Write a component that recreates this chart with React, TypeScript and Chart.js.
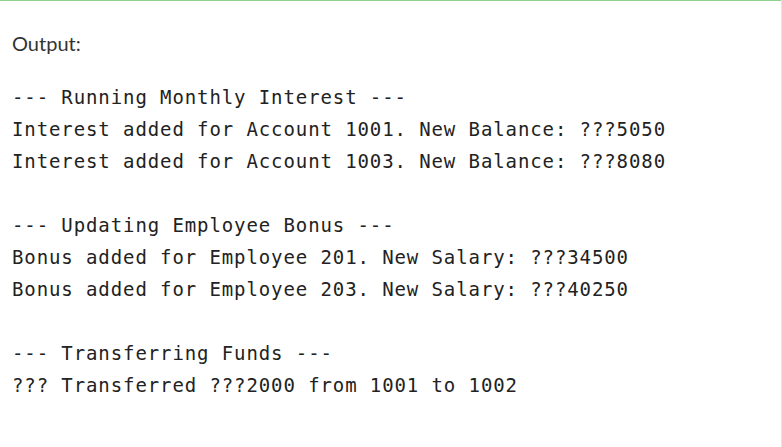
import React, { useEffect, useRef } from 'react';
import Chart from 'chart.js/auto';

const heading = 'Output:';
const outputLines = [
  '--- Running Monthly Interest ---',
  'Interest added for Account 1001. New Balance: ???5050',
  'Interest added for Account 1003. New Balance: ???8080',
  '',
  '--- Updating Employee Bonus ---',
  'Bonus added for Employee 201. New Salary: ???34500',
  'Bonus added for Employee 203. New Salary: ???40250',
  '',
  '--- Transferring Funds ---',
  '??? Transferred ???2000 from 1001 to 1002',
];
// top accent rule, drawn as a flat line across the panel
const ruleX = [0, 1];
const ruleY = [1, 1];

const App = () => {
  const chartRef = useRef<HTMLCanvasElement>(null);

  useEffect(() => {
    if (!chartRef.current) return;
    const chart = new Chart(chartRef.current, {
      type: 'line',
      data: {
        datasets: [
          {
            data: ruleX.map((x, i) => ({ x, y: ruleY[i] })),
            borderColor: '#8fd08f',
            borderWidth: 2,
            pointRadius: 0,
          },
        ],
      },
      options: {
        animation: false,
        responsive: false,
        layout: { padding: 0 },
        scales: {
          x: { type: 'linear', min: 0, max: 1, display: false },
          y: { min: 0, max: 1, display: false },
        },
        plugins: { legend: { display: false }, tooltip: { enabled: false } },
      },
    });
    return () => chart.destroy();
  }, []);

  return (
    <div style={{ position: 'fixed', left: 0, top: 0, width: 782, height: 447, background: '#fff' }}>
      <canvas ref={chartRef} width={782} height={2} style={{ position: 'absolute', left: 0, top: 0, width: 782, height: 2 }} />
      <div style={{ position: 'absolute', right: 0, top: 0, width: 1, height: 447, background: '#e4e4e4' }} />
      <div
        style={{
          position: 'absolute',
          left: 12,
          top: 31,
          fontFamily: 'Lato, "Open Sans", sans-serif',
          fontSize: 20,
          color: '#333',
        }}
      >
        {heading}
      </div>
      <div style={{ position: 'absolute', left: 12, top: 81 }}>
        {outputLines.map((line, i) => (
          <div
            key={i}
            style={{
              height: 32,
              lineHeight: '32px',
              fontFamily: '"DejaVu Sans Mono", "Liberation Mono", monospace',
              fontSize: 19,
              letterSpacing: 0.9,
              color: '#222',
              whiteSpace: 'pre',
            }}
          >
            {line}
          </div>
        ))}
      </div>
    </div>
  );
};

export default App;
